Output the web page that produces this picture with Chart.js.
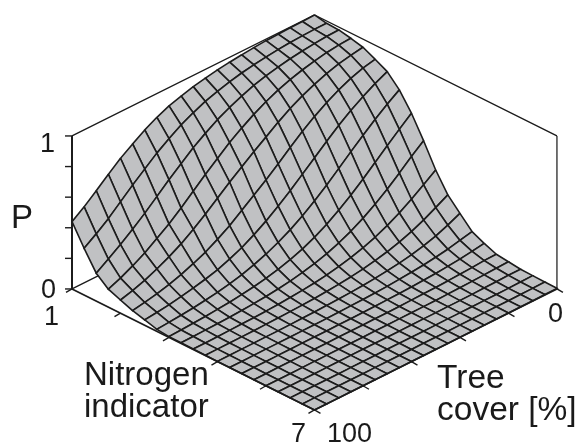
<!DOCTYPE html>
<html>
<head>
<meta charset="utf-8">
<style>
  html, body { margin: 0; padding: 0; background: #fff; }
  canvas { display: block; }
</style>
<script src="https://cdn.jsdelivr.net/npm/chart.js@4/dist/chart.umd.min.js"></script>
</head>
<body>
<canvas id="chartCanvas" width="579" height="443"></canvas>
<script>
const nitrogen = [1, 1.3, 1.6, 1.9, 2.2, 2.5, 2.8, 3.1, 3.4, 3.7, 4, 4.3, 4.6, 4.9, 5.2, 5.5, 5.8, 6.1, 6.4, 6.7, 7];
const treeCover = [0, 5, 10, 15, 20, 25, 30, 35, 40, 45, 50, 55, 60, 65, 70, 75, 80, 85, 90, 95, 100];
const pTicks = [0, 0.2, 0.4, 0.6, 0.8, 1];
const nitrogenTicks = [1, 2.2, 3.4, 4.6, 5.8, 7];
const treeTicks = [0, 20, 40, 60, 80, 100];

// P, one list per nitrogen value, tree cover 0 to 100
const p00 = [1, .997, .995, .993, .99, .984, .977, .968, .957, .943, .927, .905, .88, .845, .802, .75, .696, .631, .563, .497, .44];
const p01 = [.985, .985, .982, .978, .971, .962, .951, .937, .919, .896, .87, .835, .795, .745, .69, .625, .56, .49, .42, .36, .305];
const p02 = [.981, .978, .971, .962, .951, .936, .918, .895, .865, .83, .79, .74, .685, .62, .555, .485, .415, .35, .29, .235, .182];
const p03 = [.966, .961, .951, .936, .917, .894, .865, .828, .785, .735, .68, .615, .55, .48, .41, .345, .29, .235, .19, .15, .117];
const p04 = [.947, .934, .917, .893, .863, .827, .784, .733, .676, .62, .56, .5, .435, .37, .31, .255, .21, .17, .135, .108, .086];
const p05 = [.908, .89, .862, .826, .782, .731, .673, .608, .54, .475, .415, .355, .295, .245, .2, .165, .133, .108, .087, .07, .056];
const p06 = [.867, .828, .782, .731, .673, .608, .54, .472, .405, .343, .285, .235, .19, .155, .125, .103, .084, .068, .054, .044, .035];
const p07 = [.787, .733, .673, .608, .54, .47, .401, .337, .279, .228, .185, .148, .118, .092, .073, .057, .045, .034, .026, .019, .013];
const p08 = [.674, .608, .54, .47, .401, .336, .277, .224, .179, .142, .112, .088, .069, .054, .042, .032, .025, .018, .013, .009, .005];
const p09 = [.534, .47, .401, .336, .277, .224, .179, .142, .111, .086, .067, .051, .039, .03, .023, .017, .013, .01, .008, .006, .004];
const p10 = [.382, .325, .27, .22, .177, .14, .11, .086, .067, .051, .039, .03, .023, .017, .013, .01, .008, .006, .004, .003, .003];
const p11 = [.259, .215, .173, .138, .109, .085, .066, .051, .039, .03, .023, .017, .013, .01, .008, .006, .004, .003, .003, .002, .002];
const p12 = [.178, .14, .108, .084, .065, .05, .039, .03, .023, .017, .013, .01, .008, .006, .004, .003, .003, .002, .002, .002, .001];
const p13 = [.098, .08, .062, .049, .038, .03, .023, .017, .013, .01, .008, .006, .004, .003, .003, .002, .002, .002, .001, .001, .001];
const p14 = [.061, .048, .037, .029, .022, .017, .013, .01, .008, .006, .004, .003, .003, .002, .002, .002, .001, .001, .001, .001, .001];
const p15 = [.029, .027, .021, .017, .013, .01, .008, .006, .004, .003, .003, .002, .002, .002, .001, .001, .001, .001, .001, 0, 0];
const p16 = [.02, .017, .013, .01, .008, .006, .004, .003, .003, .002, .002, .002, .001, .001, .001, .001, .001, 0, 0, 0, 0];
const p17 = [.01, .01, .008, .006, .004, .003, .003, .002, .002, .002, .001, .001, .001, .001, .001, 0, 0, 0, 0, 0, 0];
const p18 = [.008, .006, .004, .003, .003, .002, .002, .002, .001, .001, .001, .001, .001, 0, 0, 0, 0, 0, 0, 0, 0];
const p19 = [.006, .004, .003, .002, .002, .002, .001, .001, .001, .001, .001, 0, 0, 0, 0, 0, 0, 0, 0, 0, 0];
const p20 = [.004, .003, .002, .002, .001, .001, .001, .001, .001, 0, 0, 0, 0, 0, 0, 0, 0, 0, 0, 0, 0];
const surface = [p00, p01, p02, p03, p04, p05, p06, p07, p08, p09, p10, p11, p12, p13, p14, p15, p16, p17, p18, p19, p20];

// oblique view: nitrogen runs down right, tree cover runs down left, P straight up
const Z_HEIGHT = 153 / 121;
function project(nit, tree, p) {
  const u = (nit - 1) / 6;
  const v = tree / 100;
  return { x: u - v, y: p * Z_HEIGHT - (u + v) };
}

const FILL = '#c0c1c3';
const INK = '#1c1c1c';

function lineSet(points, width, order, color) {
  return {
    data: points,
    showLine: true,
    fill: false,
    borderColor: color || INK,
    borderWidth: width,
    pointRadius: 0,
    tension: 0,
    order: order
  };
}

const datasets = [];

// back of the box goes behind the surface
datasets.push(lineSet([project(1, 100, 1), project(1, 0, 1), project(7, 0, 1)], 1.4, 1000));
datasets.push(lineSet([project(1, 100, 0), project(1, 0, 0), project(7, 0, 0)], 1.4, 1000));
datasets.push(lineSet([project(1, 100, 0), project(1, 100, 1)], 2, 1000));
datasets.push(lineSet([project(7, 0, 0), project(7, 0, 1)], 1.5, 1000, '#444'));

// one closed shape per cell, far cells painted first
for (let i = 0; i < nitrogen.length - 1; i++) {
  for (let j = 0; j < treeCover.length - 1; j++) {
    datasets.push({
      data: [
        project(nitrogen[i], treeCover[j], surface[i][j]),
        project(nitrogen[i + 1], treeCover[j], surface[i + 1][j]),
        project(nitrogen[i + 1], treeCover[j + 1], surface[i + 1][j + 1]),
        project(nitrogen[i], treeCover[j + 1], surface[i][j + 1]),
        project(nitrogen[i], treeCover[j], surface[i][j])
      ],
      showLine: true,
      fill: 'shape',
      backgroundColor: FILL,
      borderColor: INK,
      borderWidth: 1.6,
      pointRadius: 0,
      tension: 0,
      order: 500 - i - j
    });
  }
}

// front floor edges sit on top
datasets.push(lineSet([project(1, 100, 0), project(7, 100, 0), project(7, 0, 0)], 1.8, -1));

const axisDecor = {
  id: 'axisDecor',
  afterDatasetsDraw(chart) {
    const c = chart.ctx;
    const sx = chart.scales.x;
    const sy = chart.scales.y;
    const at = pt => [sx.getPixelForValue(pt.x), sy.getPixelForValue(pt.y)];

    c.save();
    c.strokeStyle = INK;
    c.lineWidth = 1.4;
    const tick = (pt, dx, dy) => {
      const [px, py] = at(pt);
      c.beginPath();
      c.moveTo(px, py);
      c.lineTo(px + dx, py + dy);
      c.stroke();
    };
    pTicks.forEach(v => tick(project(1, 100, v), -7, 0));
    nitrogenTicks.forEach(v => tick(project(v, 100, 0), -6, 3.5));
    treeTicks.forEach(v => tick(project(7, v, 0), 6, 3.5));

    c.fillStyle = '#1a1a1a';
    c.textBaseline = 'alphabetic';
    c.textAlign = 'left';
    const label = (text, x, y, size) => {
      c.font = size + 'px "Liberation Sans", sans-serif';
      c.fillText(text, x, y);
    };
    label('1', 40, 152, 27);
    label('0', 41, 298, 27);
    label('P', 11, 228, 33);
    label('1', 44, 325, 27);
    label('Nitrogen', 84, 385, 33);
    label('indicator', 84, 417, 33);
    label('7', 291, 442, 27);
    label('100', 327, 442, 27);
    label('0', 548, 322, 27);
    label('Tree', 437, 388, 33.5);
    label('cover [%]', 437, 420, 33.5);
    c.restore();
  }
};

new Chart(document.getElementById('chartCanvas').getContext('2d'), {
  type: 'scatter',
  data: { datasets: datasets },
  plugins: [axisDecor],
  options: {
    responsive: false,
    animation: false,
    events: [],
    layout: { padding: 0 },
    plugins: {
      legend: { display: false },
      title: { display: false },
      tooltip: { enabled: false },
      filler: { drawTime: 'beforeDatasetDraw', propagate: false }
    },
    scales: {
      x: { type: 'linear', display: false, min: -1.297, max: 1.091 },
      y: { type: 'linear', display: false, min: -2.273, max: 1.388 }
    }
  }
});
</script>
</body>
</html>
